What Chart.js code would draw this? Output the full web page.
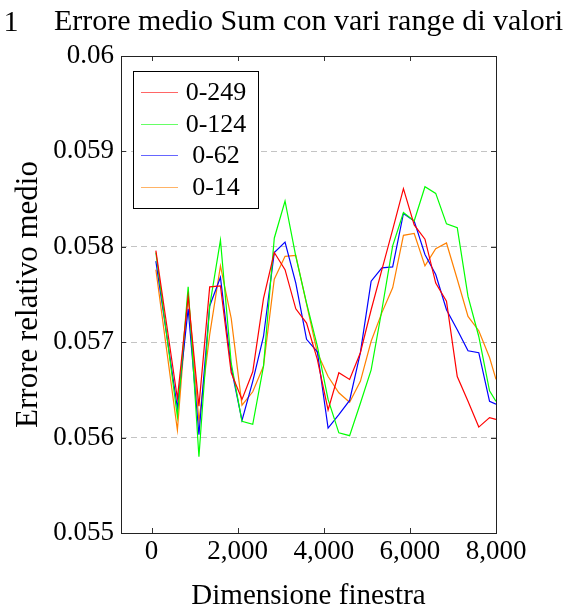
<!DOCTYPE html>
<html>
<head>
<meta charset="UTF-8" />
<title>Errore medio Sum con vari range di valori</title>
<script src="https://cdn.jsdelivr.net/npm/chart.js"></script>
<style>
  html, body { margin: 0; padding: 0; background: #fff; }
</style>
</head>
<body>
<canvas id="myChart" width="571" height="606"></canvas>
<script>
// dimensione finestra (asse x)
const windowSizes = [100, 600, 850, 1100, 1350, 1600, 1850, 2100, 2350, 2600,
  2850, 3100, 3350, 3600, 3850, 4100, 4350, 4600, 4850, 5100,
  5350, 5600, 5850, 6100, 6350, 6600, 6850, 7100, 7350, 7600,
  7850, 8000];

// errore relativo medio per ogni range di valori
const err0_249 = [0.05796, 0.05641, 0.05748, 0.05633, 0.05758, 0.05759, 0.05668, 0.05640, 0.05669, 0.05746,
  0.05794, 0.05776, 0.05735, 0.05720, 0.05682, 0.05629, 0.05668, 0.05661, 0.05689, 0.05734,
  0.05776, 0.05818, 0.05861, 0.05823, 0.05808, 0.05762, 0.05743, 0.05664, 0.05638, 0.05611,
  0.05621, 0.05619];
const err0_124 = [0.05794, 0.05622, 0.05758, 0.05580, 0.05738, 0.05807, 0.05678, 0.05617, 0.05614, 0.05675,
  0.05809, 0.05848, 0.05790, 0.05741, 0.05696, 0.05640, 0.05605, 0.05602, 0.05636, 0.05671,
  0.05734, 0.05801, 0.05836, 0.05827, 0.05863, 0.05856, 0.05824, 0.05820, 0.05748, 0.05706,
  0.05649, 0.05638];
const err0_62 = [0.05785, 0.05631, 0.05735, 0.05603, 0.05738, 0.05768, 0.05673, 0.05618, 0.05659, 0.05706,
  0.05794, 0.05805, 0.05762, 0.05703, 0.05690, 0.05610, 0.05624, 0.05639, 0.05689, 0.05764,
  0.05778, 0.05779, 0.05835, 0.05827, 0.05792, 0.05771, 0.05734, 0.05713, 0.05691, 0.05689,
  0.05638, 0.05635];
const err0_14 = [0.05776, 0.05608, 0.05752, 0.05617, 0.05708, 0.05780, 0.05725, 0.05634, 0.05648, 0.05675,
  0.05766, 0.05790, 0.05791, 0.05740, 0.05689, 0.05664, 0.05647, 0.05637, 0.05659, 0.05701,
  0.05731, 0.05757, 0.05812, 0.05814, 0.05780, 0.05798, 0.05804, 0.05766, 0.05727, 0.05712,
  0.05684, 0.05661];

const seriesNames = ['0-249', '0-124', '0-62', '0-14'];
const seriesColors = ['#ff0000', '#00ff00', '#0000ff', '#ff8000'];
const seriesValues = [err0_249, err0_124, err0_62, err0_14];

const xTicks = [0, 2000, 4000, 6000, 8000];
const yTicks = [0.055, 0.056, 0.057, 0.058, 0.059, 0.06];

const FONT = "'Liberation Serif', serif";

// cornice, tacche interne, titolo e legenda in stile pgfplots
const pgfStyle = {
  id: 'pgfStyle',
  afterDatasetsDraw(chart) {
    const ctx = chart.ctx;
    const a = chart.chartArea;
    const xs = chart.scales.x, ys = chart.scales.y;
    ctx.save();
    ctx.strokeStyle = '#333';
    ctx.lineWidth = 1;
    ctx.beginPath();
    xTicks.forEach(v => {
      const px = Math.round(xs.getPixelForValue(v)) + 0.5;
      ctx.moveTo(px, a.bottom); ctx.lineTo(px, a.bottom - 5);
      ctx.moveTo(px, a.top); ctx.lineTo(px, a.top + 5);
    });
    yTicks.forEach(v => {
      const py = Math.round(ys.getPixelForValue(v)) + 0.5;
      ctx.moveTo(a.left, py); ctx.lineTo(a.left + 5, py);
      ctx.moveTo(a.right, py); ctx.lineTo(a.right - 5, py);
    });
    ctx.stroke();
    ctx.strokeStyle = '#222';
    ctx.strokeRect(Math.round(a.left) + 0.5, Math.round(a.top) + 0.5,
      Math.round(a.right - a.left), Math.round(a.bottom - a.top));

    // legenda
    const lx = a.left + 12, ly = a.top + 15, lw = 125, lh = 137;
    ctx.fillStyle = '#fff';
    ctx.fillRect(lx, ly, lw, lh);
    ctx.strokeStyle = '#000';
    ctx.strokeRect(Math.round(lx) + 0.5, Math.round(ly) + 0.5, lw, lh);
    ctx.font = '26px ' + FONT;
    ctx.textAlign = 'center';
    ctx.textBaseline = 'middle';
    chart.data.datasets.forEach((ds, i) => {
      const y = Math.round(ly + 21 + i * 31.7) + 0.5;
      ctx.strokeStyle = ds.borderColor;
      ctx.globalAlpha = 0.6;
      ctx.beginPath();
      ctx.moveTo(lx + 8, y); ctx.lineTo(lx + 45, y);
      ctx.stroke();
      ctx.globalAlpha = 1;
      ctx.fillStyle = '#000';
      ctx.fillText(ds.label, lx + 83, y + 1);
    });

    // titolo
    ctx.font = '30px ' + FONT;
    ctx.textBaseline = 'alphabetic';
    ctx.fillText('Errore medio Sum con vari range di valori', (a.left + a.right) / 2, 30);
    ctx.fillText('1', 11, 31);
    ctx.restore();
  }
};

const ctx = document.getElementById('myChart').getContext('2d');
new Chart(ctx, {
  type: 'line',
  data: {
    datasets: seriesNames.map((name, i) => ({
      label: name,
      data: windowSizes.map((x, j) => ({ x: x, y: seriesValues[i][j] })),
      borderColor: seriesColors[i],
      backgroundColor: seriesColors[i],
      borderWidth: 1.2,
      pointRadius: 0,
      tension: 0,
      fill: false
    }))
  },
  options: {
    responsive: false,
    animation: false,
    layout: { padding: { top: 56, right: 75, bottom: 0, left: 0 } },
    plugins: {
      legend: { display: false },
      tooltip: { enabled: false }
    },
    scales: {
      x: {
        type: 'linear',
        min: -710,
        max: 8000,
        afterBuildTicks: s => { s.ticks = xTicks.map(v => ({ value: v })); },
        afterFit: s => { s.height = 73; },
        grid: { display: false, drawTicks: false },
        border: { display: false },
        ticks: {
          padding: 3,
          color: '#000',
          font: { family: FONT, size: 27 },
          maxRotation: 0,
          callback: v => v.toLocaleString('en-US')
        },
        title: {
          display: true,
          text: 'Dimensione finestra',
          color: '#000',
          font: { family: FONT, size: 29 },
          padding: { top: 0, bottom: -8 }
        }
      },
      y: {
        min: 0.055,
        max: 0.06,
        afterBuildTicks: s => { s.ticks = yTicks.map(v => ({ value: v })); },
        afterFit: s => { s.width = 121; },
        grid: {
          drawTicks: false,
          lineWidth: 1,
          color: c => (c.tick && (c.tick.value <= 0.055 || c.tick.value >= 0.06)) ? 'rgba(0,0,0,0)' : '#c4c4c4'
        },
        border: { display: false, dash: [6, 4] },
        ticks: {
          padding: 7,
          color: '#000',
          font: { family: FONT, size: 27 },
          callback: v => String(Number(v.toFixed(3)))
        },
        title: {
          display: true,
          text: 'Errore relativo medio',
          color: '#000',
          font: { family: FONT, size: 31 },
          padding: { top: 10, bottom: 0 }
        }
      }
    }
  },
  plugins: [pgfStyle]
});
</script>
</body>
</html>
